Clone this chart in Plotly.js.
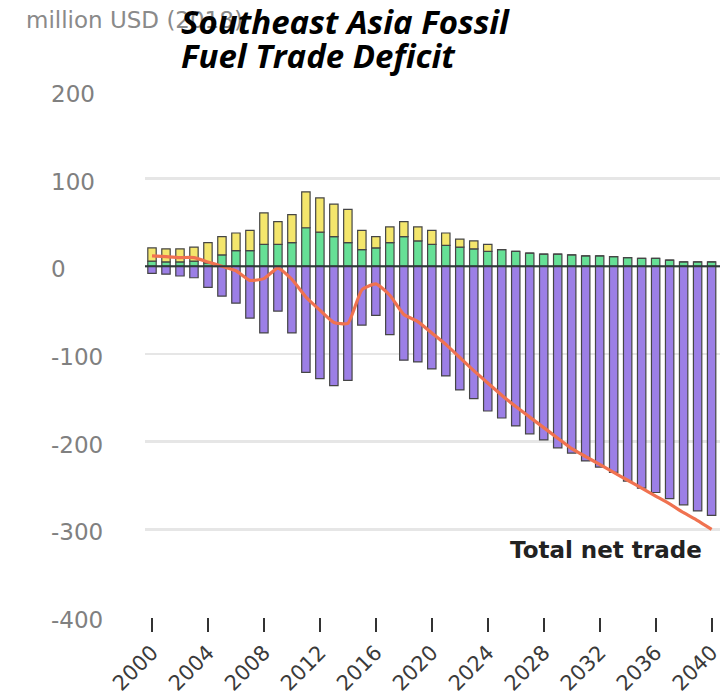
<!DOCTYPE html>
<html>
<head>
<meta charset="utf-8">
<script src="https://cdn.plot.ly/plotly-3.0.1.min.js"></script>
<style>
  html, body { margin: 0; padding: 0; background: #ffffff; }
  #chart { width: 728px; height: 694px; }
</style>
</head>
<body>
<div id="chart"></div>
<script>
// Southeast Asia fossil fuel trade balance, million USD (2018)
const years = [2000, 2001, 2002, 2003, 2004, 2005, 2006, 2007, 2008, 2009,
               2010, 2011, 2012, 2013, 2014, 2015, 2016, 2017, 2018, 2019,
               2020, 2021, 2022, 2023, 2024, 2025, 2026, 2027, 2028, 2029,
               2030, 2031, 2032, 2033, 2034, 2035, 2036, 2037, 2038, 2039, 2040];

// positive balance, lower segment (green)
const exportsGreen = [6, 5, 5, 6, 4, 13, 18, 18, 25, 25,
                      27, 44, 39, 34, 27, 19, 21, 27, 34, 29,
                      25, 24, 22, 20, 17, 19, 17, 15, 14, 14,
                      13, 12, 12, 11, 10, 9, 9, 7, 5, 5, 5];

// positive balance, upper segment (yellow)
const exportsYellow = [15, 15, 15, 16, 23, 21, 20, 23, 36, 26,
                       32, 41, 39, 37, 38, 22, 13, 18, 17, 16,
                       16, 14, 9, 9, 8, 0, 0, 0, 0, 0,
                       0, 0, 0, 0, 0, 0, 0, 0, 0, 0, 0];

// negative balance (purple)
const importsPurple = [-8, -9, -11, -13, -24, -34, -42, -59, -76, -51,
                       -76, -121, -128, -136, -130, -67, -56, -78, -107, -109,
                       -117, -125, -141, -151, -165, -173, -182, -191, -198, -207,
                       -213, -222, -229, -235, -245, -253, -258, -265, -272, -279, -284];

// total net trade (line)
const totalNet = [12, 11, 10, 10, 5, 0, -5, -16, -14, -2,
                  -15, -35, -50, -64, -65, -27, -20, -33, -55, -63,
                  -76, -89, -104, -119, -133, -147, -160, -172, -184, -196,
                  -208, -217, -226, -235, -244, -253, -262, -271, -281, -290, -300];

const xTickVals = [2000, 2004, 2008, 2012, 2016, 2020, 2024, 2028, 2032, 2036, 2040];
const yTickVals = [-400, -300, -200, -100, 0, 100, 200];
const yTickText = ['-400', '-300', '-200', '-100', '0', '100', '200'];

const barOutline = { color: '#454545', width: 1.2 };
const barWidth = 0.6;

const traces = [
  {
    type: 'bar', x: years, y: exportsGreen, width: barWidth,
    marker: { color: '#66e096', line: barOutline }, name: 'green'
  },
  {
    type: 'bar', x: years, y: exportsYellow, width: barWidth,
    marker: { color: '#f4e66c', line: barOutline }, name: 'yellow'
  },
  {
    type: 'bar', x: years, y: importsPurple, width: barWidth,
    marker: { color: '#9c7fe6', line: barOutline }, name: 'purple'
  },
  {
    type: 'scatter', mode: 'lines', x: years, y: totalNet,
    line: { color: '#f07250', width: 3.2, shape: 'spline', smoothing: 0.5 },
    name: 'Total net trade'
  }
];

const L = 145, R = 8, T = 91, B = 77;
const W = 728, H = 694;
const plotW = W - L - R, plotH = H - T - B;
const px = v => (v - L) / plotW;          // page x -> paper x
const py = v => (H - B - v) / plotH;      // page y -> paper y

// value labels of the y axis, left-aligned in a column at the far left
const yLabelAnnotations = yTickVals.map((v, i) => ({
  xref: 'paper', yref: 'y', x: px(49), y: v, yshift: -3,
  xanchor: 'left', yanchor: 'middle', showarrow: false,
  text: yTickText[i],
  font: { family: 'DejaVu Sans', size: 23, color: '#808080' }
}));

const layout = {
  width: W, height: H,
  margin: { l: L, r: R, t: T, b: B, pad: 0 },
  paper_bgcolor: '#ffffff',
  plot_bgcolor: '#ffffff',
  barmode: 'relative',
  showlegend: false,
  font: { family: 'DejaVu Sans, sans-serif' },
  xaxis: {
    range: [1999.5, 2040.6],
    tickvals: xTickVals,
    ticks: 'outside', ticklen: 14, tickwidth: 2, tickcolor: '#333333',
    tickangle: -45,
    tickfont: { family: 'DejaVu Sans', size: 21, color: '#3a3a3a' },
    showgrid: false, zeroline: false, showline: false,
    fixedrange: true
  },
  yaxis: {
    range: [-400, 200],
    tickvals: yTickVals,
    showticklabels: false, ticks: '',
    showgrid: true, gridcolor: '#e6e6e6', gridwidth: 2.5,
    zeroline: false, showline: false,
    fixedrange: true
  },
  shapes: [
    {
      type: 'line', xref: 'paper', x0: 0, x1: 1, yref: 'y', y0: 0, y1: 0,
      line: { color: '#2f3a3a', width: 2 }, layer: 'above'
    }
  ],
  annotations: yLabelAnnotations.concat([
    {
      xref: 'paper', yref: 'paper', x: px(24), y: py(20),
      xanchor: 'left', yanchor: 'middle', showarrow: false,
      text: 'million USD (2018)',
      font: { family: 'DejaVu Sans', size: 23, color: '#8a8a8a' }
    },
    {
      xref: 'paper', yref: 'paper', x: px(179), y: py(21),
      xanchor: 'left', yanchor: 'middle', showarrow: false,
      text: '<b><i>Southeast Asia Fossil</i></b>',
      font: { family: 'Open Sans', size: 33, color: '#000000' }
    },
    {
      xref: 'paper', yref: 'paper', x: px(179), y: py(56),
      xanchor: 'left', yanchor: 'middle', showarrow: false,
      text: '<b><i>Fuel Trade Deficit</i></b>',
      font: { family: 'Open Sans', size: 33, color: '#000000' }
    },
    {
      xref: 'paper', yref: 'paper', x: px(704), y: py(550),
      xanchor: 'right', yanchor: 'middle', showarrow: false,
      text: '<b>Total net trade</b>',
      font: { family: 'DejaVu Sans', size: 23, color: '#222222' }
    }
  ])
};

Plotly.newPlot('chart', traces, layout, { displayModeBar: false, staticPlot: true });
</script>
</body>
</html>
